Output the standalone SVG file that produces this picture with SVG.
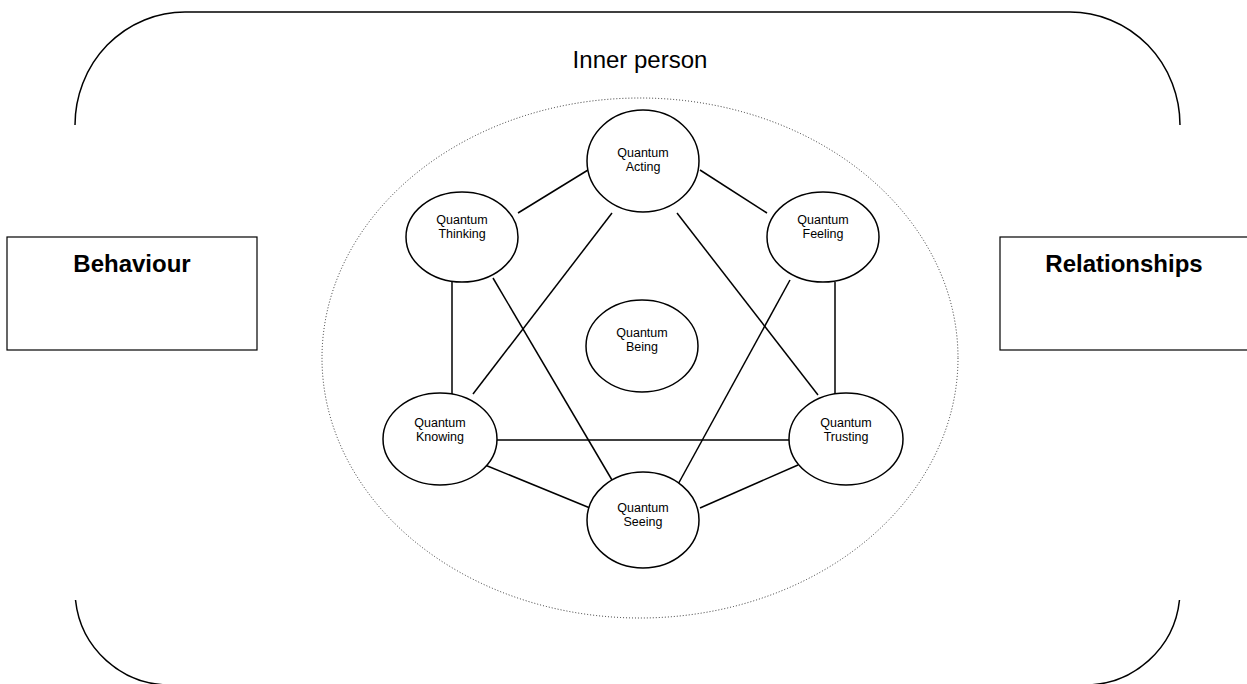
<svg xmlns="http://www.w3.org/2000/svg" width="1247" height="684" viewBox="0 0 1247 684">
<style>
.frame{fill:none;stroke:#000;stroke-width:1.5}
.box{fill:#fff;stroke:#000;stroke-width:1.2}
.node{fill:#fff;stroke:#000;stroke-width:1.5}
.edge{stroke:#000;stroke-width:1.5;fill:none}
.dots{fill:none;stroke:#000;stroke-width:0.8;stroke-dasharray:1 2}
.big{font-family:"Liberation Sans",Arial,sans-serif;font-size:24px;font-weight:bold;text-anchor:middle}
.title{font-family:"Liberation Sans",Arial,sans-serif;font-size:24px;text-anchor:middle}
.lbl{font-family:"Liberation Sans",Arial,sans-serif;font-size:12.5px;text-anchor:middle}
</style>
<rect width="1247" height="684" fill="#fff"/>
<g id="frame">
<path class="frame" d="M75,125 A110,113 0 0 1 185,12 L1070,12 A110,113 0 0 1 1180,125"/>
<path class="frame" d="M75.5,600 A95,95 0 0 0 170,685"/>
<path class="frame" d="M1179.5,600 A95,95 0 0 1 1085,685"/>
<text class="title" x="640" y="68">Inner person</text>
</g>
<g id="behaviour">
<rect class="box" x="7" y="237" width="250" height="113"/>
<text class="big" x="132" y="272">Behaviour</text>
</g>
<g id="relationships">
<rect class="box" x="1000" y="237" width="250" height="113"/>
<text class="big" x="1124" y="272">Relationships</text>
</g>
<g id="inner-person">
<ellipse class="dots" cx="640" cy="358" rx="318" ry="260"/>
</g>
<g id="connectors">
<line class="edge" x1="518" y1="213" x2="588" y2="170"/>
<line class="edge" x1="700" y1="170" x2="767" y2="213"/>
<line class="edge" x1="452" y1="282" x2="452" y2="395"/>
<line class="edge" x1="835" y1="282" x2="835" y2="395"/>
<line class="edge" x1="497" y1="440" x2="790" y2="440"/>
<line class="edge" x1="485" y1="465" x2="590" y2="508"/>
<line class="edge" x1="798" y1="465" x2="700" y2="508"/>
<line class="edge" x1="612" y1="213" x2="473" y2="394"/>
<line class="edge" x1="677" y1="213" x2="818" y2="395"/>
<line class="edge" x1="493" y1="278" x2="612" y2="480"/>
<line class="edge" x1="790" y1="280" x2="676" y2="488"/>
</g>
<g id="acting">
<ellipse class="node" cx="643" cy="161" rx="56" ry="51"/>
<text class="lbl" x="643" y="157">Quantum</text>
<text class="lbl" x="643" y="171">Acting</text>
</g>
<g id="thinking">
<ellipse class="node" cx="462" cy="237" rx="56" ry="45"/>
<text class="lbl" x="462" y="224">Quantum</text>
<text class="lbl" x="462" y="238">Thinking</text>
</g>
<g id="feeling">
<ellipse class="node" cx="823" cy="237" rx="56" ry="45"/>
<text class="lbl" x="823" y="224">Quantum</text>
<text class="lbl" x="823" y="238">Feeling</text>
</g>
<g id="being">
<ellipse class="node" cx="642" cy="346" rx="56" ry="46"/>
<text class="lbl" x="642" y="337">Quantum</text>
<text class="lbl" x="642" y="351">Being</text>
</g>
<g id="knowing">
<ellipse class="node" cx="440" cy="439" rx="57" ry="46"/>
<text class="lbl" x="440" y="427">Quantum</text>
<text class="lbl" x="440" y="441">Knowing</text>
</g>
<g id="trusting">
<ellipse class="node" cx="846" cy="439" rx="57" ry="46"/>
<text class="lbl" x="846" y="427">Quantum</text>
<text class="lbl" x="846" y="441">Trusting</text>
</g>
<g id="seeing">
<ellipse class="node" cx="643" cy="520" rx="56" ry="48"/>
<text class="lbl" x="643" y="512">Quantum</text>
<text class="lbl" x="643" y="526">Seeing</text>
</g>
</svg>
